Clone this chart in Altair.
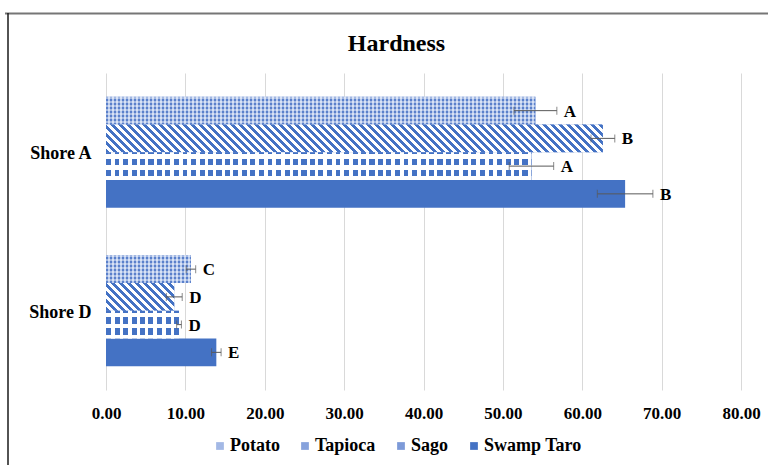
import altair as alt
import pandas as pd

# ---- data -------------------------------------------------------------
shores = ["Shore A", "Shore D"]
flours = ["Potato", "Tapioca", "Sago", "Swamp Taro"]
hardness_a = [54.1, 62.6, 53.6, 65.4]
hardness_d = [10.7, 8.6, 9.2, 13.9]
sd_a = [2.7, 1.5, 2.8, 3.5]
sd_d = [0.6, 1.0, 0.3, 0.6]
letters_a = ["A", "B", "A", "B"]
letters_d = ["C", "D", "D", "E"]
x_ticks = [0, 10, 20, 30, 40, 50, 60, 70, 80]

rows = []
for shore, vals, sds, lets in [
    ("Shore A", hardness_a, sd_a, letters_a),
    ("Shore D", hardness_d, sd_d, letters_d),
]:
    for flour, v, s, g in zip(flours, vals, sds, lets):
        rows.append({"shore": shore, "flour": flour, "value": v,
                     "lo": v - s, "hi": v + s, "grp": g})
df = pd.DataFrame(rows)

# ---- layout -----------------------------------------------------------
PLOT_W, PLOT_H = 635, 317
X_MAX = 80
PAD_INNER, PAD_OUTER = 0.3, 0.15
STEP = PLOT_H / (len(shores) - PAD_INNER + 2 * PAD_OUTER)
BAR_H = STEP * (1 - PAD_INNER) / len(flours)

FONT = "Liberation Serif"
BLUE = "#4472C4"
legend_colors = ["#a3b8e5", "#87a2dc", "#7d9ad8", BLUE]


# ---- fill patterns built from hard-stop linear gradients ---------------
def band_stops(length, period, bands, phase=0.0):
    stops = []
    n = int(length // period) + 2
    for i in range(-1, n):
        base = i * period + phase
        for s, e, c in bands:
            a, b = base + s, base + e
            if b <= 0 or a >= length:
                continue
            a, b = max(a, 0.0), min(b, length)
            stops.append({"offset": round(a / length, 5), "color": c})
            stops.append({"offset": round(b / length, 5), "color": c})
    return stops


def vertical_stripes(w, period, bands):
    return {"gradient": "linear", "x1": 0, "y1": 0, "x2": 1, "y2": 0,
            "stops": band_stops(w, period, bands)}


def horizontal_stripes(h, period, bands, phase=0.0):
    return {"gradient": "linear", "x1": 0, "y1": 0, "x2": 0, "y2": 1,
            "stops": band_stops(h, period, bands, phase)}


def diagonal_stripes(w, h, period, bands):
    # iso-lines follow x - y = const in pixel space ("\" hatching)
    k = (w + h) / (w * w + h * h)
    return {"gradient": "linear", "x1": 0, "y1": 1,
            "x2": round(w * k, 5), "y2": round(1 - h * k, 5),
            "stops": band_stops(w + h, period, bands)}


CLEAR = "rgba(255,255,255,0)"


def pattern_layers(flour, w, h):
    if flour == "Potato":
        return [
            vertical_stripes(w, 4, [(0, 2, "#5a80cb"), (2, 4, "#b9cbed")]),
            horizontal_stripes(h, 4, [(0, 2, "rgba(255,255,255,0.45)"),
                                      (2, 4, CLEAR)]),
        ]
    if flour == "Tapioca":
        return [diagonal_stripes(w, h, 8, [(0, 4, BLUE), (4, 8, "white")])]
    if flour == "Sago":
        return [
            vertical_stripes(w, 8.5, [(0, 5, BLUE), (5, 8.5, "white")]),
            horizontal_stripes(h, 11, [(0, 6.5, CLEAR), (6.5, 11, "white")],
                               phase=-4.5),
        ]
    return []


# ---- shared encodings -------------------------------------------------
x_val = alt.X("value:Q", scale=alt.Scale(domain=[0, X_MAX], nice=False),
              axis=alt.Axis(title=None, values=x_ticks, format=".2f"))
y_enc = alt.Y("shore:N", sort=shores,
              scale=alt.Scale(domain=shores, paddingInner=PAD_INNER,
                              paddingOuter=PAD_OUTER),
              axis=alt.Axis(title=None, labelOffset=2))
yoff = alt.YOffset("flour:N", sort=flours,
                   scale=alt.Scale(domain=flours, paddingInner=0,
                                   paddingOuter=0))

base = alt.Chart(df)

bars = base.mark_bar().encode(
    x=x_val, y=y_enc, yOffset=yoff,
    color=alt.Color("flour:N", scale=alt.Scale(domain=flours,
                                               range=legend_colors),
                    legend=alt.Legend(
                        title=None, orient="none", direction="horizontal",
                        legendX=105, legendY=364, symbolType="square",
                        symbolSize=60, symbolStrokeWidth=0,
                        labelFont=FONT, labelFontSize=18,
                        labelFontWeight="bold", labelColor="black",
                        labelOffset=1, columnPadding=16, padding=0)),
)

layers = [bars]
for r in rows:
    w = r["value"] / X_MAX * PLOT_W
    for grad in pattern_layers(r["flour"], w, BAR_H):
        layers.append(
            base.transform_filter(
                (alt.datum.shore == r["shore"]) & (alt.datum.flour == r["flour"])
            ).mark_bar(fill=grad).encode(x=x_val, y=y_enc, yOffset=yoff)
        )

err_color = "#595959"
err_rule = base.mark_rule(color=err_color, strokeWidth=1).encode(
    x=alt.X("lo:Q"), x2="hi:Q", y=y_enc, yOffset=yoff)
caps = base.transform_fold(["lo", "hi"], as_=["end", "pos"]).mark_tick(
    color=err_color, thickness=1, size=8, orient="vertical").encode(
    x=alt.X("pos:Q"), y=y_enc, yOffset=yoff)
labels = base.mark_text(align="left", baseline="middle", dx=7, dy=1,
                        font=FONT, fontSize=17, fontWeight="bold",
                        color="black").encode(
    x=alt.X("hi:Q"), y=y_enc, yOffset=yoff, text="grp:N")

# chart-area frame (top and left edges)
frame = alt.Chart(alt.Data(values=[{}]))
frame_top = frame.mark_rule(color="#767676", strokeWidth=2).encode(
    x=alt.value(-101), x2=alt.value(PLOT_W + 40), y=alt.value(-59.5))
frame_left = frame.mark_rule(color="#1a1a1a", strokeWidth=1.5).encode(
    x=alt.value(-98), y=alt.value(-60), y2=alt.value(PLOT_H + 80))

layers += [err_rule, caps, labels, frame_top, frame_left]

chart = alt.layer(*layers).properties(
    width=PLOT_W, height=PLOT_H,
    autosize=alt.AutoSizeParams(type="none"),
    padding={"left": 106, "top": 73, "right": 27, "bottom": 75},
    title=alt.TitleParams("Hardness", font=FONT, fontSize=24,
                          fontWeight="bold", color="black", anchor="middle",
                          baseline="alphabetic", dx=-27, offset=0, dy=62.5),
).configure_view(stroke=None).configure_axis(
    domain=False, ticks=False, labelFont=FONT, labelFontSize=17,
    labelFontWeight="bold", labelColor="black", labelPadding=15,
    labelFlush=False,
).configure_axisX(grid=True, gridColor="#d9d9d9", gridWidth=1
).configure_axisY(grid=False, labelFontSize=18)

chart.save("out.html", embed_options={"renderer": "svg", "actions": False})
